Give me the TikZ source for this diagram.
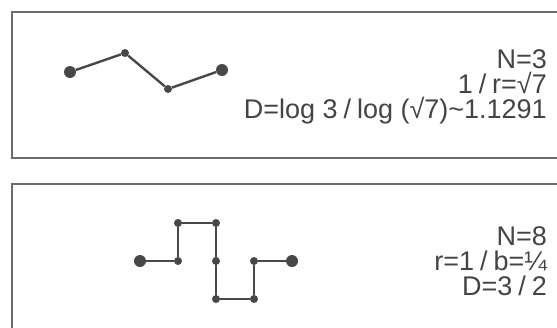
\documentclass[tikz,border=0pt]{standalone}
\usepackage{fontspec}
\setmainfont{Liberation Sans}
\usepackage{tikz}
\usetikzlibrary{positioning}
\definecolor{ink}     {HTML}{444444}
\definecolor{wire}    {HTML}{484848}
\definecolor{framec}  {HTML}{6C6C6C}
\tikzset{
  % --- nodes
  endpt/.style = {circle, fill=wire, draw=none, inner sep=0pt, minimum size=12pt},
  midpt/.style = {circle, fill=wire, draw=none, inner sep=0pt, minimum size=8pt},
  val/.style   = {anchor=base east, inner sep=0pt, text=ink,
                  text height=18pt, text depth=5pt,
                  font=\fontsize{27}{27}\selectfont},
  frame/.style = {draw=framec, line width=1.8pt, anchor=north west, inner sep=0pt},
  % --- edges
  seg/.style   = {draw=wire, line width=2.4pt},
}
\newcommand{\sla}{\hspace{0.22em}/\hspace{0.22em}}

\begin{document}
\begin{tikzpicture}[x=1pt, y=-1pt]
  \clip (0,0) rectangle (557,327);
  \fill[white] (0,0) rectangle (557,327);

  % ------------------------------------------------------------------ frames
  \node[frame, minimum width=570pt, minimum height=146pt] (topbox) at (11,11) {};
  \node[frame, minimum width=570pt, minimum height=170pt] (botbox) at (11,183) {};

  % ------------------------------------------------------------------ N=3 curve
  \node[endpt] (a1) at (70,72)  {};
  \node[midpt] (a2) at (125,53) {};
  \node[midpt] (a3) at (168,89) {};
  \node[endpt] (a4) at (222,70) {};
  \draw[seg] (a1) -- (a2) -- (a3) -- (a4);

  \node[val] (n3) at (547,68)  {N=3};
  \node[val] (r3) at (547,93)  {1\sla r=√7};
  \node[val] (d3) at (547,118) {D=log 3\sla log (√7)\textasciitilde1.1291};

  % ------------------------------------------------------------------ N=8 curve
  \node[endpt] (b1) at (140,261) {};
  \node[midpt] (b2) at (178,261) {};
  \node[midpt] (b3) at (178,223) {};
  \node[midpt] (b4) at (216,223) {};
  \node[midpt] (b5) at (216,261) {};
  \node[midpt] (b6) at (216,299) {};
  \node[midpt] (b7) at (254,299) {};
  \node[midpt] (b8) at (254,261) {};
  \node[endpt] (b9) at (292,261) {};
  \draw[seg] (b1) -- (b2) -- (b3) -- (b4) -- (b5) -- (b6) -- (b7) -- (b8) -- (b9);

  \node[val] (n8) at (547,245) {N=8};
  \node[val] (r8) at (547,270) {r=1\sla b=¼};
  \node[val] (d8) at (547,295) {D=3\sla 2};
\end{tikzpicture}
\end{document}
